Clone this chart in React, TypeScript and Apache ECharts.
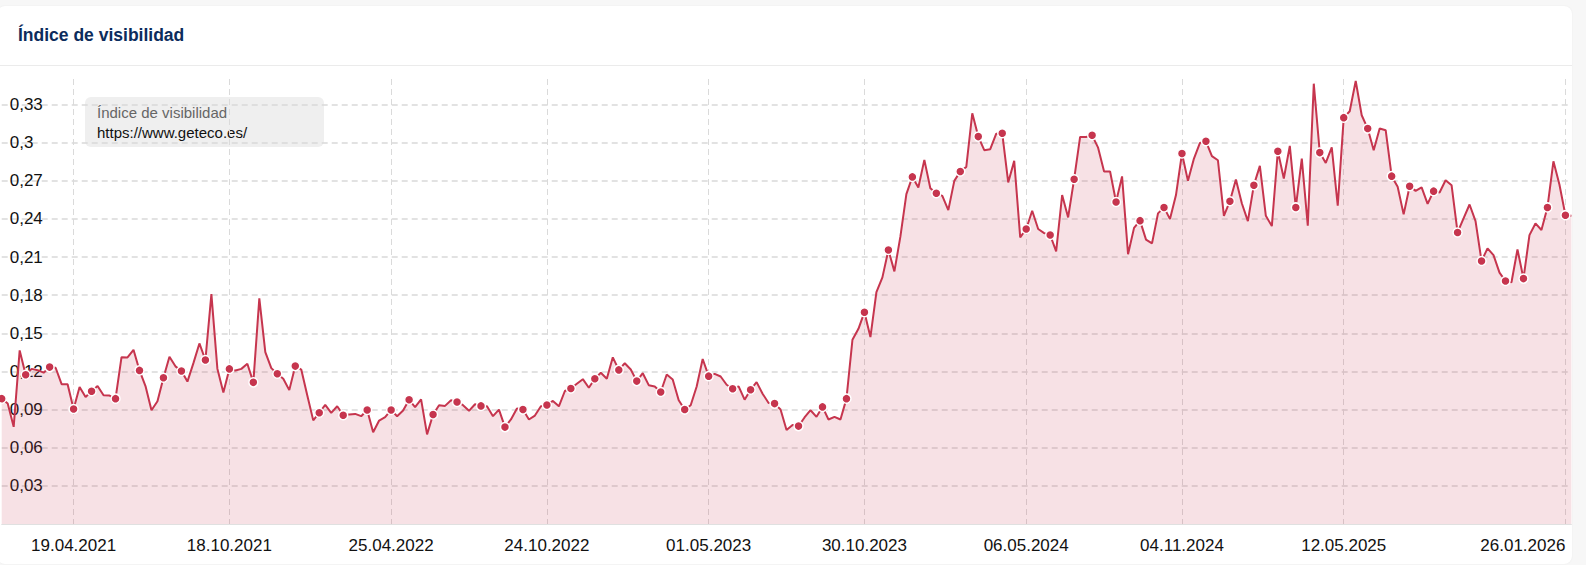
import React, { useEffect, useRef } from "react";
import * as echarts from "echarts";

// Weekly visibility index, first week 25.01.2021
const START_DATE = "2021-01-25";
const VALUES: number[] = [
  0.0986, 0.0947, 0.0764, 0.1365, 0.1174, 0.122, 0.121, 0.119, 0.1234, 0.1229,
  0.110, 0.110, 0.0905, 0.1077, 0.0999, 0.1044, 0.1085, 0.1012, 0.1010, 0.0986,
  0.1312, 0.1310, 0.1370, 0.1208, 0.1085, 0.0895, 0.0965, 0.1150, 0.1315, 0.1240,
  0.1203, 0.1120, 0.1265, 0.1420, 0.1290, 0.1808, 0.1222, 0.1035, 0.1220, 0.1208,
  0.1220, 0.1260, 0.1114, 0.1775, 0.1352, 0.1226, 0.1182, 0.1142, 0.1053, 0.1242,
  0.1215, 0.1013, 0.0815, 0.0875, 0.0937, 0.0874, 0.0926, 0.0856, 0.0861, 0.0866,
  0.0848, 0.0897, 0.0722, 0.0814, 0.0840, 0.0897, 0.0848, 0.0892, 0.0977, 0.0920,
  0.0980, 0.0705, 0.0861, 0.0934, 0.0929, 0.0973, 0.0960, 0.0934, 0.0890, 0.0942,
  0.0929, 0.0926, 0.0848, 0.0900, 0.0762, 0.0822, 0.0908, 0.0900, 0.0822, 0.0853,
  0.0926, 0.0936, 0.0968, 0.0926, 0.1046, 0.1066, 0.1103, 0.1139, 0.1072, 0.1142,
  0.1189, 0.1142, 0.1311, 0.1212, 0.1264, 0.1215, 0.1124, 0.1186, 0.1092, 0.1082,
  0.1038, 0.1176, 0.1137, 0.0973, 0.0900, 0.0934, 0.1082, 0.1298, 0.1163, 0.1181,
  0.1160, 0.1095, 0.1064, 0.1082, 0.0978, 0.1056, 0.1116, 0.1025, 0.0952, 0.0947,
  0.0900, 0.0739, 0.0778, 0.0770, 0.0838, 0.0895, 0.0843, 0.0921, 0.0822, 0.0843,
  0.0822, 0.0986, 0.1449, 0.1535, 0.1666, 0.1470, 0.1823, 0.1940, 0.2155, 0.1987,
  0.2260, 0.2594, 0.2730, 0.2647, 0.2864, 0.2641, 0.2602, 0.2581, 0.2469, 0.2699,
  0.2772, 0.2809, 0.3230, 0.3047, 0.2940, 0.2948, 0.3070, 0.3073, 0.2686, 0.2856,
  0.2254, 0.2320, 0.2464, 0.2320, 0.2288, 0.2273, 0.2144, 0.2587, 0.2411, 0.2712,
  0.3044, 0.3044, 0.3057, 0.2960, 0.2772, 0.2772, 0.2533, 0.2734, 0.2122, 0.2329,
  0.2386, 0.2237, 0.2207, 0.2443, 0.2490, 0.2398, 0.2587, 0.2914, 0.2699, 0.2874,
  0.2997, 0.3010, 0.2893, 0.2861, 0.2424, 0.2539, 0.2710, 0.2521, 0.2382, 0.2665,
  0.2817, 0.2424, 0.2343, 0.2932, 0.2717, 0.2974, 0.2490, 0.2874, 0.2346, 0.3463,
  0.2921, 0.2840, 0.2963, 0.2503, 0.3196, 0.3246, 0.3484, 0.3215, 0.3110, 0.2940,
  0.3110, 0.3097, 0.2736, 0.2652, 0.2435, 0.2657, 0.2620, 0.2647, 0.2518, 0.2618,
  0.2607, 0.2704, 0.2665, 0.2293, 0.2403, 0.2513, 0.2382, 0.2068, 0.2168, 0.2115,
  0.1977, 0.1911, 0.1901, 0.2160, 0.1930, 0.2272, 0.2364, 0.2312, 0.2490, 0.2853,
  0.2670, 0.2429, 0.2425,
];

// Points drawn with a marker
const MARKED: number[] = [
  0, 4, 8, 12, 15, 19, 23, 27, 30, 34, 38, 42, 46, 49, 53, 57, 61, 65, 68, 72,
  76, 80, 84, 87, 91, 95, 99, 103, 106, 110, 114, 118, 122, 125, 129, 133, 137,
  141, 144, 148, 152, 156, 160, 163, 167, 171, 175, 179, 182, 186, 190, 194, 197,
  201, 205, 209, 213, 216, 220, 224, 228, 232, 235, 239, 243, 247, 251, 254, 258,
  261,
];

const TICK_LABELS: string[] = [
  "19.04.2021", "18.10.2021", "25.04.2022", "24.10.2022", "01.05.2023",
  "30.10.2023", "06.05.2024", "04.11.2024", "12.05.2025", "26.01.2026",
];

const TITLE = "Índice de visibilidad";
const LEGEND_NAME = "Índice de visibilidad";
const LEGEND_DOMAIN = "https://www.geteco.es/";

const pad = (n: number) => (n < 10 ? "0" + n : String(n));
const startMs = Date.parse(START_DATE + "T00:00:00Z");
const CATEGORIES: string[] = VALUES.map((_, i) => {
  const d = new Date(startMs + i * 7 * 86400000);
  return `${pad(d.getUTCDate())}.${pad(d.getUTCMonth() + 1)}.${d.getUTCFullYear()}`;
});

const FONT = '"Liberation Sans", Arial, Helvetica, sans-serif';
const RED = "#c6354e";
const OFF = 3; // card starts 3px left of the viewport

export default function App() {
  const ref = useRef<HTMLDivElement>(null);

  useEffect(() => {
    if (!ref.current) return;
    const chart = echarts.init(ref.current, undefined, { renderer: "svg" });
    const tickSet = new Set(TICK_LABELS);
    const markSet = new Set(MARKED);
    const showTick = (idx: number) => tickSet.has(CATEGORIES[idx]);

    chart.setOption({
      animation: false,
      grid: { left: 1.7 + OFF, right: 0.6, top: 73, bottom: 40, containLabel: false },
      xAxis: {
        type: "category",
        data: CATEGORIES,
        boundaryGap: false,
        axisLine: { show: true, lineStyle: { color: "#e0e0e0", width: 1 } },
        axisTick: { show: false },
        axisLabel: {
          interval: (idx: number) => showTick(idx),
          color: "#111",
          fontSize: 17,
          fontFamily: FONT,
          margin: 13,
          alignMaxLabel: "right",
        },
        splitLine: {
          show: true,
          interval: (idx: number) => showTick(idx),
          lineStyle: { color: "#dadada", width: 1, type: [6, 4] },
        },
      },
      yAxis: {
        type: "value",
        min: 0,
        max: 0.35,
        interval: 0.03,
        axisLine: { show: false },
        axisTick: { show: false },
        axisLabel: {
          inside: true,
          margin: 8,
          color: "#111",
          fontSize: 17,
          fontFamily: FONT,
          showMinLabel: false,
          showMaxLabel: false,
          formatter: (v: number) => String(+v.toFixed(2)).replace(".", ","),
        },
        splitLine: {
          show: true,
          showMinLine: false,
          showMaxLine: false,
          lineStyle: { color: "#d9d9d9", width: 1.5, type: [6, 4] },
        },
      },
      series: [
        {
          type: "line",
          name: LEGEND_NAME,
          data: VALUES.map((v, i) =>
            markSet.has(i) ? { value: v } : { value: v, symbol: "none" }
          ),
          symbol: "circle",
          symbolSize: 9,
          showSymbol: true,
          showAllSymbol: true,
          lineStyle: { color: RED, width: 2 },
          itemStyle: { color: RED, borderColor: "#ffffff", borderWidth: 1.5 },
          areaStyle: { color: "rgba(200,55,79,0.215)", origin: "start" },
          emphasis: { disabled: true },
          z: 3,
        },
      ],
      graphic: [
        {
          type: "text",
          left: 18 + OFF,
          top: 20,
          style: {
            text: TITLE,
            font: `bold 17.5px ${FONT}`,
            fill: "#0c2c5c",
          },
        },
        {
          type: "line",
          shape: { x1: 0, y1: 59.5, x2: 1600, y2: 59.5 },
          style: { stroke: "#ebebeb", lineWidth: 1 },
        },
        {
          type: "group",
          z: 100,
          children: [
            {
              type: "rect",
              shape: { x: 85 + OFF, y: 91, width: 239, height: 50, r: 6 },
              style: { fill: "#efefef" },
            },
            {
              type: "text",
              x: 97 + OFF,
              y: 106,
              style: {
                text: LEGEND_NAME,
                font: `15px ${FONT}`,
                fill: "#666666",
                verticalAlign: "middle",
                textVerticalAlign: "middle",
              },
            },
            {
              type: "text",
              x: 97 + OFF,
              y: 126,
              style: {
                text: LEGEND_DOMAIN,
                font: `15px ${FONT}`,
                fill: "#111111",
                verticalAlign: "middle",
                textVerticalAlign: "middle",
              },
            },
          ],
        },
      ],
    });
    return () => chart.dispose();
  }, []);

  return (
    <div
      style={{
        position: "fixed",
        left: 0,
        top: 0,
        width: 1586,
        height: 565,
        background: "#f7f7f7",
        overflow: "hidden",
      }}
    >
      <div
        style={{
          position: "absolute",
          left: -OFF,
          top: 6,
          width: 1572 + OFF,
          height: 558,
          background: "#ffffff",
          borderRadius: 8,
          overflow: "hidden",
          boxShadow: "0 0 2px rgba(0,0,0,0.06)",
        }}
      >
        <div ref={ref} style={{ width: 1572 + OFF, height: 558 }} />
      </div>
    </div>
  );
}
